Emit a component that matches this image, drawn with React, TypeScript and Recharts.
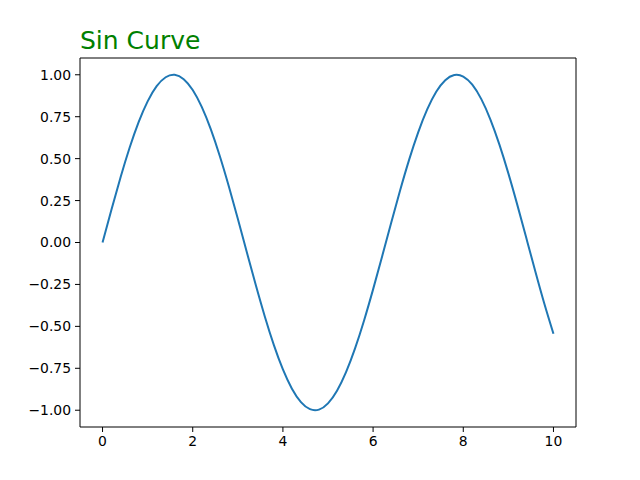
import React from 'react';
import { LineChart, Line, XAxis, YAxis, ReferenceArea } from 'recharts';

const xValues = [0, 0.2, 0.4, 0.6, 0.8, 1.0, 1.2, 1.4, 1.6, 1.8, 2.0, 2.2, 2.4, 2.6, 2.8, 3.0, 3.2, 3.4, 3.6, 3.8, 4.0, 4.2, 4.4, 4.6, 4.8, 5.0, 5.2, 5.4, 5.6, 5.8, 6.0, 6.2, 6.4, 6.6, 6.8, 7.0, 7.2, 7.4, 7.6, 7.8, 8.0, 8.2, 8.4, 8.6, 8.8, 9.0, 9.2, 9.4, 9.6, 9.8, 10.0];
const yValues = [0, 0.1987, 0.3894, 0.5646, 0.7174, 0.8415, 0.932, 0.9854, 0.9996, 0.9738, 0.9093, 0.8085, 0.6755, 0.5155, 0.335, 0.1411, -0.0584, -0.2555, -0.4425, -0.6119, -0.7568, -0.8716, -0.9516, -0.9937, -0.9962, -0.9589, -0.8835, -0.7728, -0.6313, -0.4646, -0.2794, -0.0831, 0.1165, 0.3115, 0.4941, 0.657, 0.7937, 0.8987, 0.9679, 0.9985, 0.9894, 0.9407, 0.8546, 0.7344, 0.5849, 0.4121, 0.2229, 0.0248, -0.1743, -0.3665, -0.544];
const xTicks = [0, 2, 4, 6, 8, 10];
const yTicks = [-1, -0.75, -0.5, -0.25, 0, 0.25, 0.5, 0.75, 1];
const title = 'Sin Curve';

const data = xValues.map((x, i) => ({ x, y: yValues[i] }));
const font = 'DejaVu Sans, sans-serif';
const fmtY = (v: number) => v.toFixed(2).replace('-', '\u2212');

export default function App() {
  return (
    <div style={{ position: 'absolute', left: 0, top: 0, width: 640, height: 480, background: '#fff' }}>
      <LineChart width={640} height={480} data={data} margin={{ top: 58, right: 64, bottom: 0, left: 0 }}>
        <XAxis
          dataKey="x"
          type="number"
          domain={[-0.5, 10.5]}
          ticks={xTicks}
          height={53}
          tickSize={5}
          tickMargin={4}
          stroke="#000"
          axisLine={false}
          tick={{ fill: '#000', fontSize: 13.9, fontFamily: font }}
          allowDataOverflow
        />
        <YAxis
          type="number"
          domain={[-1.1, 1.1]}
          ticks={yTicks}
          width={80}
          tickSize={5}
          tickMargin={4}
          stroke="#000"
          axisLine={false}
          tickFormatter={fmtY}
          tick={{ fill: '#000', fontSize: 13.9, fontFamily: font }}
          allowDataOverflow
        />
        <Line
          dataKey="y"
          type="natural"
          stroke="#1f77b4"
          strokeWidth={2}
          dot={false}
          isAnimationActive={false}
        />
        <ReferenceArea x1={-0.5} x2={10.5} y1={-1.1} y2={1.1} fill="none" stroke="#000" strokeWidth={1} ifOverflow="visible" />
      </LineChart>
      <svg width={640} height={60} style={{ position: 'absolute', left: 0, top: 0 }}>
        <text x={80} y={49} fill="green" fontSize={25} fontFamily={font}>{title}</text>
      </svg>
    </div>
  );
}
